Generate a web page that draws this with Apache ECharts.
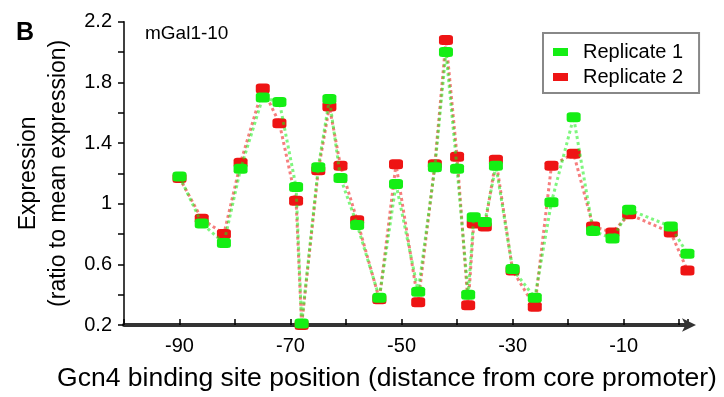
<!DOCTYPE html>
<html>
<head>
<meta charset="utf-8">
<script src="https://cdn.jsdelivr.net/npm/echarts@6/dist/echarts.min.js"></script>
<style>
html,body{margin:0;padding:0;background:#fff;}
#chart{width:724px;height:397px;}
</style>
</head>
<body>
<div id="chart"></div>
<script>
// Gcn4 binding site positions (distance from core promoter)
const positions = [-90, -86, -82, -79, -75, -72, -69, -68, -65, -63, -61, -58, -54, -51, -47, -44, -42, -40, -38, -37, -35, -33, -30, -26, -23, -19, -15.5, -12, -9, -1.5, 1.5];
// Expression (ratio to mean expression)
const replicate1 = [1.18, 0.87, 0.74, 1.23, 1.70, 1.67, 1.11, 0.21, 1.24, 1.69, 1.17, 0.86, 0.38, 1.13, 0.42, 1.24, 2.00, 1.23, 0.40, 0.91, 0.88, 1.25, 0.57, 0.38, 1.01, 1.57, 0.82, 0.77, 0.96, 0.85, 0.67];
const replicate2 = [1.17, 0.90, 0.80, 1.27, 1.76, 1.53, 1.02, 0.20, 1.22, 1.64, 1.25, 0.89, 0.37, 1.26, 0.35, 1.26, 2.08, 1.31, 0.33, 0.87, 0.85, 1.29, 0.56, 0.32, 1.25, 1.33, 0.85, 0.81, 0.93, 0.81, 0.56];
const xTickLabels = ['-90', '-70', '-50', '-30', '-10'];
const yTickLabels = ['0.2', '0.6', '1', '1.4', '1.8', '2.2'];
const seriesNames = ['Replicate 1', 'Replicate 2'];
const panelLabel = 'B';
const constructName = 'mGal1-10';

const FONT = "'Liberation Sans', Arial, sans-serif";
const GREEN = '#14ee14';
const RED = '#ee1414';

function pairs(ys) { return positions.map((x, i) => [x, ys[i]]); }

const chart = echarts.init(document.getElementById('chart'), null, {renderer: 'canvas'});
chart.setOption({
  animation: false,
  backgroundColor: '#fff',
  textStyle: {fontFamily: FONT},
  grid: {left: 124, right: 36, top: 21.7, bottom: 72, containLabel: false},
  xAxis: {
    type: 'value', min: -100, max: 1.6, interval: 10,
    axisLine: {show: true, onZero: false, symbol: ['none', 'arrow'], symbolSize: [10, 14], symbolOffset: [0, 8],
      lineStyle: {color: '#333', width: 4}},
    axisTick: {show: true, inside: true, length: 6, lineStyle: {color: '#000', width: 1.5}},
    splitLine: {show: false},
    axisLabel: {fontSize: 20, color: '#000', fontFamily: FONT, margin: 11,
      formatter: v => xTickLabels.indexOf(String(Math.round(v))) >= 0 && Math.abs(v - Math.round(v)) < 1e-6 ? String(Math.round(v)) : ''},
    name: 'Gcn4 binding site position (distance from core promoter)',
    nameLocation: 'middle', nameGap: 40,
    nameTextStyle: {fontSize: 26.5, color: '#000', fontFamily: FONT, padding: [0, 38, 0, 0]}
  },
  yAxis: {
    type: 'value', min: 0.2, max: 2.2, interval: 0.2,
    axisLine: {show: true, onZero: false, lineStyle: {color: '#000', width: 1.5}},
    axisTick: {show: true, length: 6, lineStyle: {color: '#000', width: 1.5}},
    splitLine: {show: false},
    axisLabel: {fontSize: 20, color: '#000', fontFamily: FONT, margin: 12,
      formatter: v => { const s = String(Math.round(v * 10) / 10); return yTickLabels.indexOf(s) >= 0 ? s : ''; }},
    name: 'Expression\n(ratio to mean expression)',
    nameLocation: 'middle', nameGap: 48,
    nameTextStyle: {fontSize: 23, lineHeight: 30, color: '#000', fontFamily: FONT}
  },
  legend: {
    data: seriesNames, orient: 'vertical', left: 543, top: 33,
    borderColor: '#888', borderWidth: 2, padding: [9, 16, 6, 10],
    itemWidth: 15, itemHeight: 8, itemGap: 5, icon: 'rect',
    textStyle: {fontSize: 20, color: '#000', fontFamily: FONT, padding: [0, 0, 0, 10]}
  },
  graphic: [
    {type: 'text', left: 16, top: 21, style: {text: panelLabel, font: 'bold 25px ' + FONT, fill: '#000'}},
    {type: 'text', left: 145, top: 24, style: {text: constructName, font: '19px ' + FONT, fill: '#000'}}
  ],
  series: [
    {name: seriesNames[1], type: 'line', data: pairs(replicate2), z: 2,
      symbol: 'roundRect', symbolSize: [14, 10], itemStyle: {color: RED},
      lineStyle: {color: RED, width: 3, type: 'dotted', opacity: 0.55}},
    {name: seriesNames[0], type: 'line', data: pairs(replicate1), z: 3,
      symbol: 'roundRect', symbolSize: [14, 10], itemStyle: {color: GREEN},
      lineStyle: {color: GREEN, width: 3, type: 'dotted', opacity: 0.55}}
  ]
});
</script>
</body>
</html>
